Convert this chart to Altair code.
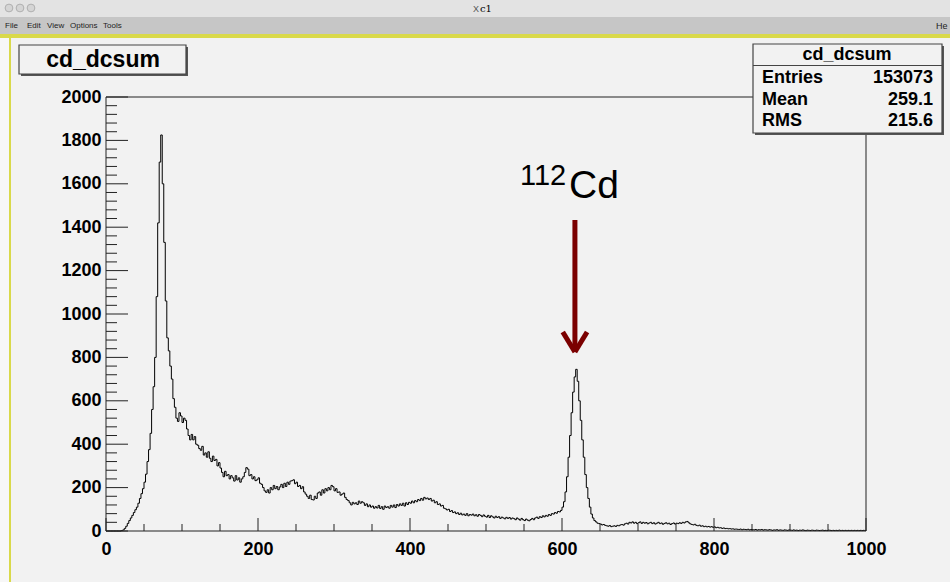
import altair as alt
import pandas as pd

# ---------------- data ----------------
BIN_WIDTH = 2
COUNTS = [
    0, 0, 0, 0, 0, 0, 0, 0, 0, 0,                              # 0-18
    2, 5, 12, 22, 35, 48, 60, 72, 85, 98,                      # 20-38
    110, 128, 150, 172, 195, 225, 262, 320, 375, 450,          # 40-58
    560, 665, 800, 1080, 1420, 1700, 1825, 1600, 1330, 1060,   # 60-78
    890, 830, 760, 700, 610, 570, 520, 505, 545, 530,          # 80-98
    500, 520, 510, 470, 440, 420, 445, 420, 435, 400,          # 100-118
    395, 380, 372, 390, 350, 360, 340, 365, 335, 320,          # 120-138
    345, 325, 330, 300, 315, 290, 270, 250, 275, 255,          # 140-158
    260, 240, 255, 245, 230, 255, 235, 245, 225, 240,          # 160-178
    250, 270, 292, 285, 255, 260, 240, 250, 232, 236,          # 180-198
    245, 220, 215, 200, 185, 178, 190, 175, 200, 190,          # 200-218
    210, 195, 205, 190, 203, 215, 200, 220, 205, 225,          # 220-238
    215, 230, 232, 236, 218, 225, 205, 210, 195, 204,          # 240-258
    180, 170, 160, 150, 165, 145, 143, 160, 150, 175,          # 260-278
    180, 165, 190, 175, 195, 185, 200, 190, 210, 204,          # 280-298
    185, 195, 178, 180, 165, 170, 175, 155, 145, 140,          # 300-318
    130, 120, 132, 125, 130, 122, 138, 128, 135, 130,          # 320-338
    118, 125, 112, 120, 110, 115, 105, 112, 106, 118,          # 340-358
    104, 112, 100, 115, 108, 112, 105, 118, 110, 120,          # 360-378
    108, 122, 115, 125, 118, 128, 115, 130, 122, 132,          # 380-398
    128, 138, 130, 140, 135, 145, 140, 150, 142, 155,          # 400-418
    148, 152, 145, 150, 138, 142, 130, 135, 122, 125,          # 420-438
    115, 118, 105, 102, 97, 100, 90, 94, 85, 88,               # 440-458
    80, 84, 76, 82, 74, 78, 72, 80, 70, 76,                    # 460-478
    73, 78, 70, 75, 68, 76, 72, 66, 74, 68,                    # 480-498
    64, 72, 62, 70, 65, 60, 68, 62, 66, 58,                    # 500-518
    64, 60, 56, 63, 58, 62, 55, 60, 57, 52,                    # 520-538
    60, 55, 50, 58, 52, 48, 55, 50, 47, 53,                    # 540-558
    58, 52, 60, 64, 58, 66, 62, 70, 65, 72,                    # 560-578
    68, 76, 72, 80, 78, 85, 82, 90, 88, 95,                    # 580-598
    110, 135, 180, 250, 340, 440, 545, 640, 710, 745,          # 600-618
    690, 600, 510, 420, 340, 260, 200, 150, 110, 78,           # 620-638
    60, 48, 42, 36, 34, 32, 28, 30, 26, 24,                    # 640-658
    22, 25, 20, 22, 24, 21, 26, 24, 28, 30,                    # 660-678
    27, 33, 36, 32, 40, 37, 42, 36, 40, 34,                    # 680-698
    38, 42, 35, 40, 36, 39, 33, 37, 40, 34,                    # 700-718
    38, 32, 36, 40, 34, 37, 31, 35, 38, 33,                    # 720-738
    36, 30, 34, 37, 32, 36, 34, 38, 35, 40,                    # 740-758
    37, 42, 44, 38, 33, 30, 28, 31, 26, 24,                    # 760-778
    27, 22, 24, 20, 22, 19, 21, 18, 20, 17,                    # 780-798
    19, 15, 17, 14, 15, 12, 14, 11, 12, 10,                    # 800-818
    11, 9, 10, 8, 9, 8, 7, 9, 6, 8,                            # 820-838
    7, 6, 8, 5, 7, 6, 5, 7, 4, 6,                              # 840-858
    5, 7, 4, 6, 5, 4, 6, 5, 3, 5,                              # 860-878
    4, 6, 3, 5, 4, 3, 5, 4, 3, 5,                              # 880-898
    4, 3, 5, 3, 4, 2, 4, 3, 5, 3,                              # 900-918
    2, 4, 3, 2, 4, 3, 2, 4, 3, 2,                              # 920-938
    3, 4, 2, 3, 2, 4, 3, 2, 3, 2,                              # 940-958
    3, 2, 4, 2, 3, 2, 3, 2, 3, 2,                              # 960-978
    3, 2, 3, 2, 3, 2, 3, 2, 3, 2,                              # 980-998
]
X_LABELS = [0, 200, 400, 600, 800, 1000]
Y_LABELS = [0, 200, 400, 600, 800, 1000, 1200, 1400, 1600, 1800, 2000]
X_MAJOR_TICKS = [0, 200, 400, 600, 800, 1000]
X_MINOR_TICKS = [50, 100, 150, 250, 300, 350, 450, 500, 550, 650, 700, 750, 850, 900, 950]
Y_MAJOR_TICKS = Y_LABELS
Y_MINOR_TICKS = [v for v in range(0, 2001, 40) if v % 200 != 0]

HIST_NAME = "cd_dcsum"
STATS_LABELS = ["Entries", "Mean", "RMS"]
STATS_VALUES = ["153073", "259.1", "215.6"]
PEAK_X = 617
ARROW_TOP = 1433
ARROW_TIP = 825

bin_lo = [i * BIN_WIDTH for i in range(len(COUNTS))]
hist_df = pd.DataFrame({"x": bin_lo + [1000], "y": COUNTS + [COUNTS[-1]]})

W, H = 760, 434
LEFT, TOP = 106, 97
FONT = "Liberation Sans"
BG = "#f2f2f2"

xs = alt.Scale(domain=[0, 1000], nice=False, zero=False)
ys = alt.Scale(domain=[0, 2000], nice=False, zero=False)
AX_X = alt.Axis(values=X_LABELS, ticks=False, domain=False, grid=False, title=None, format="d",
                labelFont=FONT, labelFontSize=18, labelFontWeight="bold", labelColor="black",
                labelPadding=9, labelFlush=False, labelOverlap=False, labelBound=False)
AX_Y = alt.Axis(values=Y_LABELS, ticks=False, domain=False, grid=False, title=None, format="d",
                labelFont=FONT, labelFontSize=18, labelFontWeight="bold", labelColor="black",
                labelPadding=5, labelFlush=False, labelOverlap=False, labelBound=False)


def one():
    return pd.DataFrame({"a": [0]})


def px(X):
    return alt.value(X - LEFT)


def py(Y):
    return alt.value(Y - TOP)


def rect(x0, y0, x1, y1, fill, stroke=None, sw=0):
    kw = dict(fill=fill)
    if stroke:
        kw.update(stroke=stroke, strokeWidth=sw)
    else:
        kw.update(strokeWidth=0)
    return alt.Chart(one()).mark_rect(**kw).encode(
        x=px(x0), x2=px(x1), y=py(y0), y2=py(y1))


def text(X, Y, s, size, weight="normal", align="left", color="black", font=FONT, baseline="middle"):
    return alt.Chart(one()).mark_text(
        text=s, fontSize=size, fontWeight=weight, align=align, baseline=baseline,
        color=color, font=font).encode(x=px(X), y=py(Y))


layers = []

# window chrome
layers.append(rect(0, 0, 950, 17, "#e3e3e3"))
layers.append(rect(0, 17, 950, 34, "#c6c6c6"))
layers.append(rect(0, 34, 950, 38, "#d9d94a"))
layers.append(rect(0, 38, 10, 582, "#f7f7f7"))
layers.append(rect(9, 38, 11, 582, "#d9d94a"))
for cx in [9, 20, 31]:
    layers.append(alt.Chart(one()).mark_point(
        shape="circle", size=60, filled=True, fill="#d0d0d0", stroke="#9a9a9a", strokeWidth=1
    ).encode(x=px(cx), y=py(8)))
layers.append(text(480, 9, "c1", 10, font="DejaVu Serif"))
layers.append(text(473, 9, "X", 9, color="#555555"))
for lbl, X in zip(["File", "Edit", "View", "Options", "Tools"], [5, 27, 47, 70, 103]):
    layers.append(text(X, 26, lbl, 8, color="#222222"))
layers.append(text(936, 26, "He", 9, color="#222222"))

# histogram
hist = alt.Chart(hist_df).mark_line(
    interpolate="step-after", color="black", strokeWidth=1
).encode(
    x=alt.X("x:Q", scale=xs, axis=AX_X),
    y=alt.Y("y:Q", scale=ys, axis=AX_Y),
)
layers.append(hist)


# inward ticks
def yticks(vals, length):
    return alt.Chart(pd.DataFrame({"y": vals})).mark_rule(color="#222222", strokeWidth=1).encode(
        y=alt.Y("y:Q", scale=ys, axis=AX_Y), x=alt.value(0), x2=alt.value(length))


def xticks(vals, length):
    return alt.Chart(pd.DataFrame({"x": vals})).mark_rule(color="#222222", strokeWidth=1).encode(
        x=alt.X("x:Q", scale=xs, axis=AX_X), y=alt.value(H), y2=alt.value(H - length))


layers += [yticks(Y_MAJOR_TICKS, 22), yticks(Y_MINOR_TICKS, 11),
           xticks(X_MAJOR_TICKS, 13), xticks(X_MINOR_TICKS, 7)]

# frame
layers.append(alt.Chart(one()).mark_rect(fill=None, stroke="#222222", strokeWidth=1).encode(
    x=alt.value(0), x2=alt.value(W), y=alt.value(0), y2=alt.value(H)))

# title box
layers.append(rect(21, 47, 188, 76, "#555555"))
layers.append(rect(19, 45, 186, 74, BG, "#444444", 1.2))
layers.append(text(103, 59.5, HIST_NAME, 23, weight="bold", align="center"))

# stats box
layers.append(rect(755, 46, 944, 135, "#555555"))
layers.append(rect(753, 44, 942, 133, BG, "#444444", 1.2))
layers.append(rect(753, 65, 942, 66, "#444444"))
layers.append(text(847, 55, HIST_NAME, 18, weight="bold", align="center"))
for lbl, val, Y in zip(STATS_LABELS, STATS_VALUES, [78, 100, 121]):
    layers.append(text(762, Y, lbl, 18, weight="bold"))
    layers.append(text(933, Y, val, 18, weight="bold", align="right"))

# annotation: 112Cd with arrow
layers.append(text(520, 185, "112", 29, baseline="alphabetic"))
layers.append(text(569, 198, "Cd", 39, baseline="alphabetic"))
arrow_df = pd.DataFrame({
    "x": [PEAK_X, PEAK_X - 16, PEAK_X + 16],
    "y": [ARROW_TOP, ARROW_TIP + 92, ARROW_TIP + 92],
    "x1": [PEAK_X, PEAK_X, PEAK_X],
    "y1": [ARROW_TIP + 8, ARROW_TIP, ARROW_TIP],
})
layers.append(alt.Chart(arrow_df).mark_rule(color="#7b0000", strokeWidth=5, strokeCap="butt").encode(
    x=alt.X("x:Q", scale=xs, axis=AX_X), x2="x1:Q",
    y=alt.Y("y:Q", scale=ys, axis=AX_Y), y2="y1:Q"))

chart = alt.layer(*layers).properties(
    width=W, height=H,
    autosize=alt.AutoSizeParams(type="none"),
    padding={"left": LEFT, "top": TOP, "right": 950 - LEFT - W, "bottom": 582 - TOP - H},
    background=BG,
).configure_view(stroke=None)

chart.save("out.html", embed_options={"renderer": "svg", "actions": False})
